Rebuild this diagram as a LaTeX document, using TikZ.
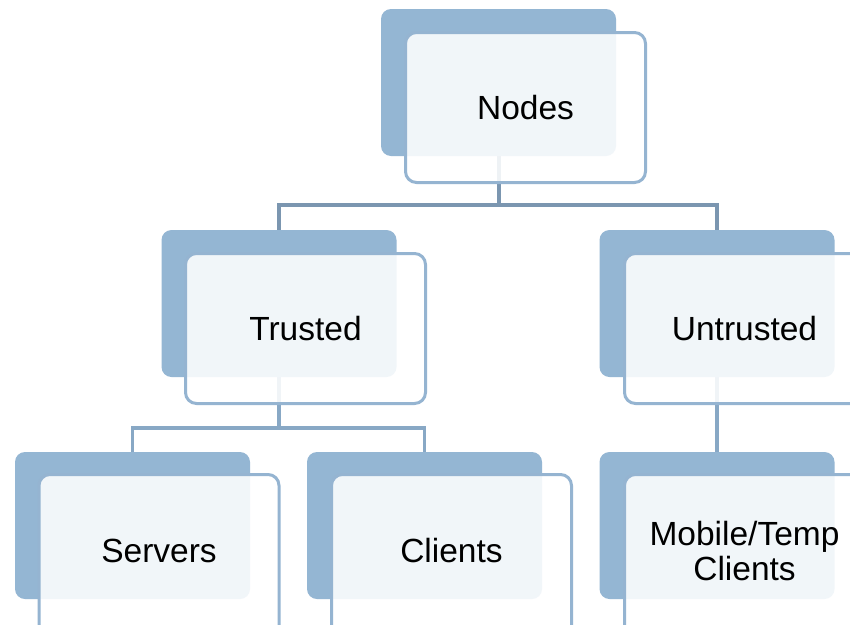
\documentclass[tikz,border=0pt]{standalone}
\usepackage{fontspec}
\setmainfont{Liberation Sans}
\usetikzlibrary{backgrounds}
\definecolor{backblue}{HTML}{94B6D3}
\definecolor{frameblue}{HTML}{95B4D1}
\definecolor{linktop}{HTML}{7B96B0}
\definecolor{linkmid}{HTML}{88A8C5}
\tikzset{
  x=1pt, y=-1pt,
  backcard/.style={rectangle, rounded corners=10pt, fill=backblue, draw=none,
    minimum width=235pt, minimum height=147pt, inner sep=0pt, outer sep=0pt},
  frontcard/.style={rectangle, rounded corners=11pt, draw=frameblue, line width=3pt,
    fill=white, fill opacity=0.88,
    minimum width=240pt, minimum height=150pt, inner sep=0pt, outer sep=0pt},
  % bottom-row cards run past the lower edge of the page
  tallcard/.style={frontcard, minimum height=170pt},
  cardtext/.style={text=black, align=center, inner sep=0pt,
    font=\fontsize{33.5}{35}\selectfont},
  linkA/.style={draw=linktop, line width=4pt},
  linkB/.style={draw=linkmid, line width=3.5pt},
}
\begin{document}
\begin{tikzpicture}
\clip (0,0) rectangle (850,624);

% top level
\node[backcard] (nodesB) at (498.5,82.5) {};
\node[frontcard] (nodesF) at (525.5,107.5) {};
\node[cardtext] (nodesT) at (nodesF.center) {Nodes};

% second level
\node[backcard] (trustB) at (279,303.5) {};
\node[frontcard] (trustF) at (305.5,328.5) {};
\node[cardtext] (trustT) at (trustF.center) {Trusted};
\node[backcard] (untrB) at (717,303.5) {};
\node[frontcard] (untrF) at (744.5,328.5) {};
\node[cardtext] (untrT) at (untrF.center) {Untrusted};

% third level
\node[backcard] (servB) at (132.5,525.5) {};
\node[tallcard, anchor=north] (servF) at (159,474.5) {};
\node[cardtext] (servT) at (159,551) {Servers};
\node[backcard] (cliB) at (424.5,525.5) {};
\node[tallcard, anchor=north] (cliF) at (451.5,474.5) {};
\node[cardtext] (cliT) at (451.5,551) {Clients};
\node[backcard] (mobB) at (717,525.5) {};
\node[tallcard, anchor=north] (mobF) at (744.5,474.5) {};
\node[cardtext] (mobT) at (744.5,551) {Mobile/Temp\\Clients};

% bus heights of the orthogonal connectors
\coordinate (busA) at (0,205);
\coordinate (busB) at (0,428);

\begin{scope}[on background layer]
  \fill[white] (0,0) rectangle (850,624);
  \draw[linkA] (nodesB.south) -- (nodesB.south |- busA) -| (trustB.north);
  \draw[linkA] (nodesB.south |- busA) -| (untrB.north);
  \draw[linkB] (trustB.south) -- (trustB.south |- busB) -| (servB.north);
  \draw[linkB] (trustB.south |- busB) -| (cliB.north);
  \draw[linkB] (untrB.south) -- (mobB.north);
\end{scope}
\end{tikzpicture}
\end{document}
